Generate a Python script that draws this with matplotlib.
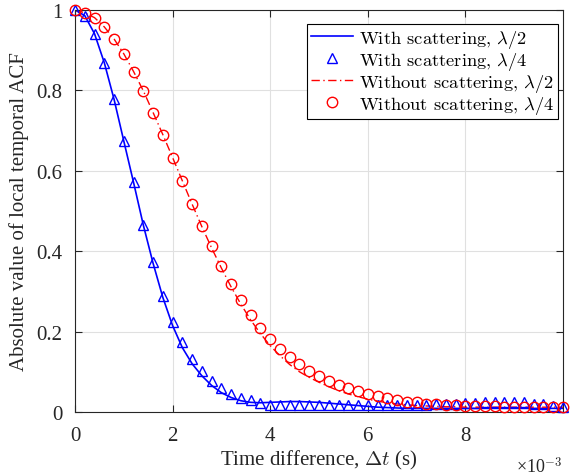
import numpy as np
import matplotlib
matplotlib.use("Agg")
import matplotlib.pyplot as plt
from matplotlib.font_manager import FontProperties

plt.rcParams['font.family'] = ['Liberation Serif', 'DejaVu Serif']
plt.rcParams['mathtext.fontset'] = 'cm'
plt.rcParams['axes.unicode_minus'] = False

# Time axis (s), sample step 0.2e-3
t_ms = [0.0, 0.2, 0.4, 0.6, 0.8, 1.0, 1.2, 1.4, 1.6, 1.8,
        2.0, 2.2, 2.4, 2.6, 2.8, 3.0, 3.2, 3.4, 3.6, 3.8,
        4.0, 4.2, 4.4, 4.6, 4.8, 5.0, 5.2, 5.4, 5.6, 5.8,
        6.0, 6.2, 6.4, 6.6, 6.8, 7.0, 7.2, 7.4, 7.6, 7.8,
        8.0, 8.2, 8.4, 8.6, 8.8, 9.0, 9.2, 9.4, 9.6, 9.8, 10.0]
t = np.array(t_ms) * 1e-3

# With scattering, lambda/2 (solid blue line)
with_scat_half = [1.000, 0.986, 0.941, 0.869, 0.778, 0.674, 0.571, 0.465, 0.370, 0.285,
                  0.215, 0.160, 0.120, 0.090, 0.066, 0.048, 0.036, 0.028, 0.024, 0.023,
                  0.024, 0.025, 0.026, 0.026, 0.025, 0.024, 0.022, 0.020, 0.018, 0.016,
                  0.014, 0.012, 0.011, 0.010, 0.009, 0.009, 0.009, 0.009, 0.009, 0.009,
                  0.009, 0.009, 0.009, 0.009, 0.009, 0.009, 0.009, 0.009, 0.009, 0.009, 0.009]

# With scattering, lambda/4 (blue triangles)
with_scat_quarter = [1.000, 0.986, 0.941, 0.869, 0.778, 0.674, 0.571, 0.465, 0.372, 0.289,
                     0.224, 0.173, 0.132, 0.101, 0.078, 0.060, 0.045, 0.036, 0.029, 0.022,
                     0.018, 0.017, 0.017, 0.017, 0.017, 0.017, 0.017, 0.017, 0.017, 0.017,
                     0.017, 0.017, 0.017, 0.017, 0.017, 0.018, 0.018, 0.019, 0.020, 0.021,
                     0.022, 0.023, 0.024, 0.025, 0.025, 0.025, 0.024, 0.021, 0.019, 0.016, 0.012]

# Without scattering, lambda/2 (red dash-dot line)
without_scat_half = [1.000, 0.993, 0.981, 0.958, 0.928, 0.891, 0.847, 0.799, 0.745, 0.690,
                     0.633, 0.575, 0.517, 0.461, 0.408, 0.358, 0.311, 0.268, 0.229, 0.195,
                     0.165, 0.140, 0.118, 0.100, 0.086, 0.074, 0.063, 0.053, 0.045, 0.038,
                     0.032, 0.027, 0.023, 0.020, 0.018, 0.016, 0.015, 0.014, 0.013, 0.013,
                     0.012, 0.012, 0.012, 0.012, 0.012, 0.012, 0.012, 0.012, 0.012, 0.012, 0.012]

# Without scattering, lambda/4 (red circles)
without_scat_quarter = [1.000, 0.993, 0.981, 0.958, 0.928, 0.891, 0.847, 0.799, 0.745, 0.690,
                        0.633, 0.575, 0.518, 0.463, 0.412, 0.364, 0.318, 0.278, 0.242, 0.210,
                        0.181, 0.157, 0.136, 0.119, 0.103, 0.090, 0.078, 0.068, 0.060, 0.051,
                        0.045, 0.039, 0.034, 0.029, 0.026, 0.024, 0.021, 0.020, 0.018, 0.017,
                        0.016, 0.015, 0.014, 0.014, 0.013, 0.013, 0.013, 0.013, 0.012, 0.012, 0.012]

xtick_vals = [0, 0.002, 0.004, 0.006, 0.008]
xtick_labels = ['0', '2', '4', '6', '8']
ytick_vals = [0, 0.2, 0.4, 0.6, 0.8, 1.0]
ytick_labels = ['0', '0.2', '0.4', '0.6', '0.8', '1']
legend_labels = [r'With scattering, $\lambda/2$', r'With scattering, $\lambda/4$',
                 r'Without scattering, $\lambda/2$', r'Without scattering, $\lambda/4$']

fig = plt.figure(figsize=(5.78, 4.77), dpi=100)
ax = fig.add_axes([75/578, 1 - 413/477, 488/578, 402/477])

blue = (0, 0, 1)
red = (1, 0, 0)
ax.plot(t, with_scat_half, '-', color=blue, lw=1.2, label=legend_labels[0])
ax.plot(t, with_scat_quarter, '^', color=blue, mfc='none', ms=7.5, mew=1.0, ls='none',
        clip_on=False, zorder=3, label=legend_labels[1])
ax.plot(t, without_scat_half, color=red, lw=1.0, ls=(0, (6, 2.5, 1, 2.5)),
        label=legend_labels[2])
ax.plot(t, without_scat_quarter, 'o', color=red, mfc='none', ms=7.5, mew=1.0, ls='none',
        clip_on=False, zorder=3, label=legend_labels[3])

ax.set_xlim(0, 0.01)
ax.set_ylim(0, 1)
ax.set_xticks(xtick_vals)
ax.set_xticklabels(xtick_labels)
ax.set_yticks(ytick_vals)
ax.set_yticklabels(ytick_labels)

spine_c = (0.15, 0.15, 0.15)
for s in ax.spines.values():
    s.set_color(spine_c)
    s.set_linewidth(0.8)
ax.tick_params(direction='in', top=True, right=True, length=5, width=0.8,
               color=spine_c, labelsize=15, labelcolor=spine_c)
ax.tick_params(axis='x', pad=10)
ax.tick_params(axis='y', pad=9)
ax.grid(True, color=(0.88, 0.88, 0.88), lw=0.8)
ax.set_axisbelow(True)

ax.set_xlabel('Time difference, $\\Delta t$ (s)', fontsize=15, color=spine_c, labelpad=2)
ax.set_ylabel('Absolute value of local temporal ACF', fontsize=15, color=spine_c, labelpad=5)

ax.text(1.0, -0.108, '\u00d710$^{\\mathrm{-3}}$', transform=ax.transAxes, ha='right', va='top',
        fontsize=13, color=spine_c)

leg_font = FontProperties(family='cmr10', size=13.3)
leg = ax.legend(loc='upper right', bbox_to_anchor=(0.99, 0.964), prop=leg_font,
                frameon=True, fancybox=False, edgecolor='black', framealpha=1,
                handlelength=2.3, handletextpad=0.35, labelspacing=0.0,
                borderpad=0.18, borderaxespad=0.0, numpoints=1)
leg.get_frame().set_linewidth(0.8)

fig.savefig('out.png', dpi=100)
